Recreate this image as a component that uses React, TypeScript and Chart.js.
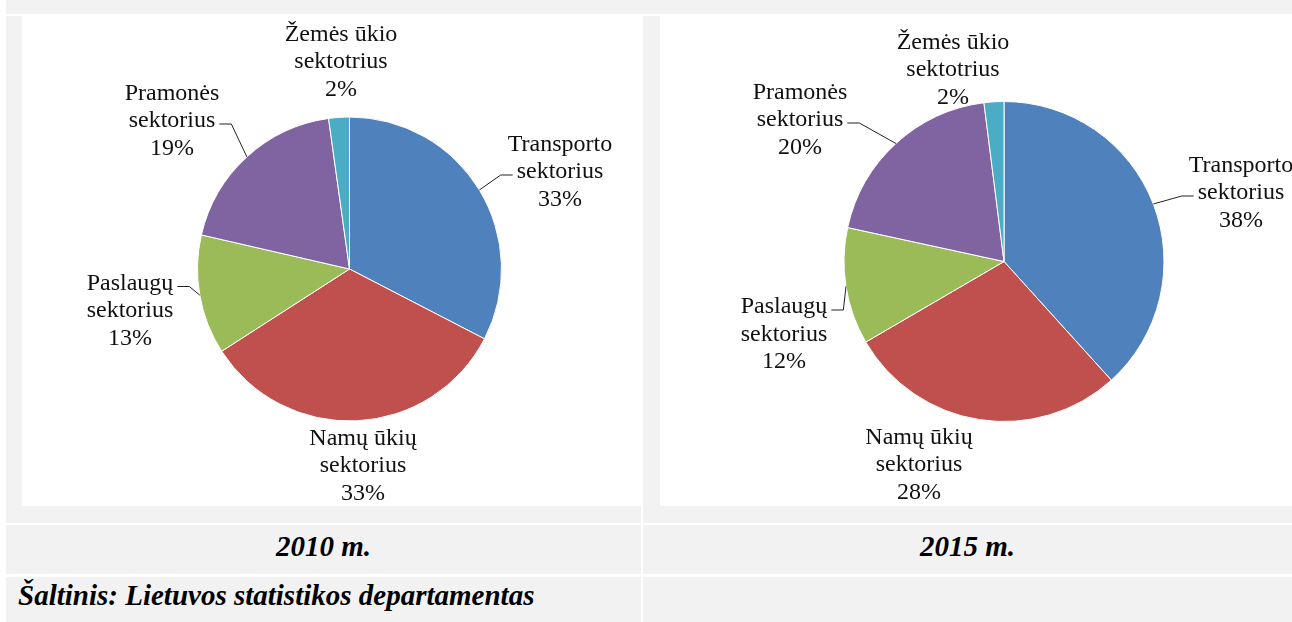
import React, { useEffect, useRef } from 'react';
import { Chart, registerables } from 'chart.js';

Chart.register(...registerables);

// ---------- data ----------
const categories = [
  'Transporto sektorius',
  'Namų ūkių sektorius',
  'Paslaugų sektorius',
  'Pramonės sektorius',
  'Žemės ūkio sektotrius',
];
const labelLines = [
  ['Transporto', 'sektorius'],
  ['Namų ūkių', 'sektorius'],
  ['Paslaugų', 'sektorius'],
  ['Pramonės', 'sektorius'],
  ['Žemės ūkio', 'sektotrius'],
];
const values2010 = [32.6, 33.3, 12.7, 19.2, 2.2];
const values2015 = [38.3, 28.3, 11.8, 19.6, 2.0];
const sliceColors = ['#4F81BD', '#C0504D', '#9BBB59', '#8064A2', '#4BACC6'];
const captions = ['2010 m.', '2015 m.'];
const sourceText = 'Šaltinis: Lietuvos statistikos departamentas';

// ---------- label placement (layout only) ----------
type Placement = { dx: number; dy: number; leader: number | null };
const placement2010: Placement[] = [
  { dx: 210.5, dy: -91, leader: 1 },
  { dx: 13.5, dy: 203, leader: null },
  { dx: -219.5, dy: 48, leader: 0 },
  { dx: -177.5, dy: -142, leader: 1 },
  { dx: -8.5, dy: -201, leader: null },
];
const placement2015: Placement[] = [
  { dx: 237, dy: -62.5, leader: 1 },
  { dx: -85, dy: 209.5, leader: null },
  { dx: -220, dy: 79, leader: 0 },
  { dx: -204, dy: -135.5, leader: 1 },
  { dx: -51, dy: -185.5, leader: null },
];

const SERIF = '"Liberation Serif", "Times New Roman", Times, serif';

function makeLabelPlugin(placements: Placement[]) {
  return {
    id: 'outLabels',
    afterDatasetsDraw(chart: any) {
      const { ctx } = chart;
      const meta = chart.getDatasetMeta(0);
      const data = chart.data.datasets[0].data as number[];
      const total = data.reduce((a: number, b: number) => a + b, 0);
      const lh = 27.5;
      ctx.save();
      ctx.font = `24px ${SERIF}`;
      ctx.fillStyle = '#111';
      ctx.strokeStyle = '#222';
      ctx.lineWidth = 1;
      ctx.textAlign = 'center';
      ctx.textBaseline = 'alphabetic';
      meta.data.forEach((arc: any, i: number) => {
        const p = arc.getProps(['x', 'y', 'startAngle', 'endAngle', 'outerRadius'], true);
        const pl = placements[i];
        const cx = p.x + pl.dx;
        const midY = p.y + pl.dy;
        const lines = [...labelLines[i], Math.round((data[i] / total) * 100) + '%'];
        const baselines = lines.map((_, k) => midY + (k - 1) * lh);
        lines.forEach((t, k) => ctx.fillText(t, cx, baselines[k]));
        if (pl.leader !== null) {
          const mid = (p.startAngle + p.endAngle) / 2;
          const px = p.x + Math.cos(mid) * p.outerRadius;
          const py = p.y + Math.sin(mid) * p.outerRadius;
          const w = ctx.measureText(lines[pl.leader]).width;
          const ty = baselines[pl.leader] - 3;
          const right = px < cx;
          const tx = right ? cx - w / 2 - 4 : cx + w / 2 + 4;
          const ex = right ? tx - 12 : tx + 12;
          ctx.beginPath();
          ctx.moveTo(px, py);
          ctx.lineTo(ex, ty);
          ctx.lineTo(tx, ty);
          ctx.stroke();
        }
      });
      ctx.restore();
    },
  };
}

function PieChart(props: {
  values: number[];
  placements: Placement[];
  width: number;
  height: number;
  padding: { left: number; right: number; top: number; bottom: number };
}) {
  const ref = useRef<HTMLCanvasElement>(null);
  useEffect(() => {
    const chart = new Chart(ref.current as HTMLCanvasElement, {
      type: 'pie',
      data: {
        labels: categories,
        datasets: [
          {
            data: props.values,
            backgroundColor: sliceColors,
            borderColor: '#ffffff',
            borderWidth: 1,
          },
        ],
      },
      options: {
        responsive: false,
        maintainAspectRatio: false,
        animation: false,
        layout: { padding: props.padding },
        plugins: {
          legend: { display: false },
          tooltip: { enabled: false },
        },
      },
      plugins: [makeLabelPlugin(props.placements)],
    } as any);
    return () => chart.destroy();
  }, []);
  return (
    <canvas
      ref={ref}
      width={props.width}
      height={props.height}
      style={{ display: 'block', width: props.width, height: props.height }}
    />
  );
}

const GREY = '#f2f2f2';

function Box(p: { x: number; y: number; w: number; h: number; bg: string; children?: any; style?: any }) {
  return (
    <div
      style={{
        position: 'absolute',
        left: p.x,
        top: p.y,
        width: p.w,
        height: p.h,
        background: p.bg,
        overflow: 'hidden',
        ...(p.style || {}),
      }}
    >
      {p.children}
    </div>
  );
}

export default function App() {
  const capStyle = {
    display: 'flex',
    alignItems: 'center',
    justifyContent: 'center',
    fontFamily: SERIF,
    fontWeight: 'bold',
    fontStyle: 'italic',
    fontSize: 29,
    color: '#000',
    paddingBottom: 7,
    boxSizing: 'border-box',
  };
  return (
    <div
      style={{
        position: 'fixed',
        left: 0,
        top: 0,
        width: 1292,
        height: 622,
        background: '#ffffff',
        overflow: 'hidden',
      }}
    >
      {/* top strip */}
      <Box x={6} y={0} w={1286} h={14} bg={GREY} />
      {/* chart row cells */}
      <Box x={6} y={16} w={635} h={507} bg={GREY} />
      <Box x={643} y={16} w={649} h={507} bg={GREY} />
      <Box x={22} y={16} w={619} h={490} bg="#ffffff">
        <PieChart
          values={values2010}
          placements={placement2010}
          width={619}
          height={490}
          padding={{ left: 175, right: 139, top: 100.5, bottom: 84.5 }}
        />
      </Box>
      <Box x={660} y={16} w={632} h={490} bg="#ffffff">
        <PieChart
          values={values2015}
          placements={placement2015}
          width={632}
          height={490}
          padding={{ left: 183.5, right: 127.5, top: 85, bottom: 84 }}
        />
      </Box>
      {/* caption row */}
      <Box x={6} y={525} w={635} h={49} bg={GREY} style={capStyle}>
        {captions[0]}
      </Box>
      <Box x={643} y={525} w={649} h={49} bg={GREY} style={capStyle}>
        {captions[1]}
      </Box>
      {/* source row */}
      <Box
        x={6}
        y={577}
        w={635}
        h={45}
        bg={GREY}
        style={{
          fontFamily: SERIF,
          fontWeight: 'bold',
          fontStyle: 'italic',
          fontSize: 29,
          color: '#000',
          whiteSpace: 'nowrap',
          overflow: 'visible',
          zIndex: 2,
        }}
      >
        <div style={{ position: 'absolute', left: 12, top: 18, lineHeight: 0 }}>{sourceText}</div>
      </Box>
      <Box x={643} y={577} w={649} h={45} bg={GREY} />
    </div>
  );
}
